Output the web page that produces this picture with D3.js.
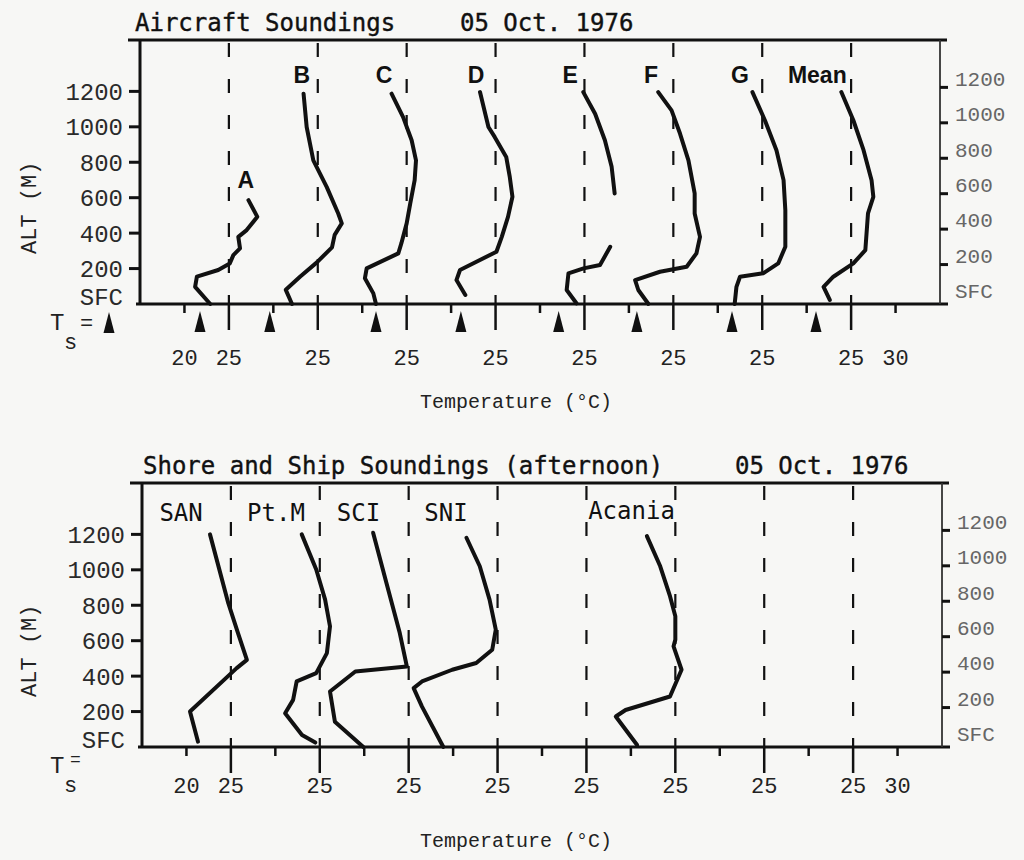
<!DOCTYPE html>
<html>
<head>
<meta charset="utf-8">
<script src="https://cdn.jsdelivr.net/npm/d3@7"></script>
<style>
  body { margin: 0; background: #f7f7f5; }
</style>
</head>
<body>
<svg id="chart" width="1024" height="860"></svg>
<script>
// altitude axis
const altTicks = [0, 200, 400, 600, 800, 1000, 1200];
const altTickLabels = ["SFC", "200", "400", "600", "800", "1000", "1200"];

// temperature axis: each sounding is shifted 10 deg C to the right
const tempMinorTicks = [20, 30, 40, 50, 60, 70, 80, 90, 100];
const tempMajorTicks = [25, 35, 45, 55, 65, 75, 85, 95];
const tempLabelValues = [20, 25, 35, 45, 55, 65, 75, 85, 95, 100];
const tempLabelTexts = ["20", "25", "25", "25", "25", "25", "25", "25", "25", "30"];

// aircraft soundings [temperature, altitude]
const aircraftNames = ["A", "B", "C", "D", "E", "F", "G", "Mean"];
const aircraftOffsets = [0, 10, 20, 30, 40, 50, 60, 70];
const soundingA = [[22.9,0],[21.2,97],[21.4,154],[23.8,192],[25.1,229],[25.5,276],[26.25,314],[26.06,379],[27.0,417],[28.2,492],[27.2,586]];
const soundingB = [[22.1,0],[21.4,80],[23.0,154],[24.9,235],[26.6,320],[26.9,390],[27.7,455],[27.3,511],[26.0,661],[24.5,811],[23.75,999],[23.4,1187]];
const soundingC = [[21.55,0],[21.25,60],[20.3,145],[20.5,201],[24.06,286],[24.4,342],[25.0,455],[25.4,567],[25.9,699],[26.05,811],[25.56,924],[24.6,1055],[23.3,1187]];
const soundingD = [[21.6,51],[20.6,135],[21.0,192],[25.1,295],[25.7,379],[26.4,492],[26.9,605],[26.6,717],[26.2,830],[24.9,943],[24.2,999],[23.25,1196]];
const soundingE = [[24.1,4],[23.0,79],[23.2,173],[24.9,201],[26.75,220],[27.9,323],null,[28.4,624],[28.06,774],[27.3,924],[26.2,1074],[24.87,1196]];
const soundingF = [[22.2,0],[21.06,79],[20.7,135],[23.5,182],[26.5,210],[27.6,286],[28.0,379],[27.4,511],[27.4,624],[26.7,811],[25.75,962],[24.8,1093],[23.3,1196]];
const soundingG = [[21.9,0],[22.1,97],[22.5,154],[25.1,173],[26.8,229],[27.6,323],[27.6,530],[27.4,699],[26.6,868],[25.3,1037],[23.9,1196]];
const soundingMean = [[22.6,23],[21.9,97],[23.0,154],[25.25,229],[26.6,304],[26.9,511],[27.5,605],[27.3,699],[26.4,868],[25.25,1037],[23.9,1196]];
const aircraftTs = [21.75, 19.6, 21.55, 21.1, 22.1, 20.9, 21.6, 21.05];
const aircraftLabelPos = [[26.9,654],[23.2,1250],[22.45,1250],[22.8,1250],[23.4,1250],[22.5,1250],[22.5,1250],[21.2,1250]];

// shore and ship soundings
const shoreNames = ["SAN", "Pt.M", "SCI", "SNI", "Acania"];
const shoreOffsets = [0, 10, 20, 30, 50];
const soundingSAN = [[21.3,30],[20.4,200],[25.65,445],[26.8,492],[25.8,643],[24.7,813],[22.65,1200]];
const soundingPtM = [[24.5,25],[23.0,68],[21.1,191],[22.0,266],[22.4,370],[24.6,417],[25.8,530],[26.15,681],[25.6,832],[24.6,1002],[22.97,1200]];
const soundingSCI = [[19.9,0],[16.7,143],[16.15,313],[19.0,426],[24.8,454],[24.0,643],[22.5,926],[21.0,1209]];
const soundingSNI = [[18.9,0],[16.5,228],[15.56,332],[16.5,370],[19.9,436],[22.6,474],[24.4,549],[24.8,662],[24.1,832],[23.0,1020],[21.5,1181]];
const soundingAcania = [[20.7,11],[18.3,172],[19.4,209],[24.4,285],[25.7,436],[24.8,568],[25.0,606],[25.0,738],[24.4,851],[23.3,1020],[21.8,1190]];
const shoreLabelPos = [[19.4,1273],[20.07,1273],[19.36,1273],[19.2,1273],[20.07,1285]];

const ink = "#111";
const svg = d3.select("#chart");

function drawPanel(cfg) {
    const x = d3.scaleLinear().domain([15, 105]).range([cfg.left, cfg.left + 800]);
    const y = d3.scaleLinear().domain([0, 1490]).range([cfg.bottom, cfg.bottom - 264]);
    const g = svg.append("g");
    const x0 = x(15), x1 = x(105), yTop = y(1490), y0 = y(0);

    // title
    const title = g.append("g")
        .attr("font-family", "DejaVu Sans Mono")
        .attr("font-size", 24)
        .attr("fill", ink)
        .attr("stroke", ink)
        .attr("stroke-width", 0.4);
    cfg.titles.forEach(t => title.append("text").attr("x", t[0]).attr("y", yTop - 9).text(t[1]));

    // dashed reference lines at 25 C of every sounding
    g.selectAll(".dash").data(tempMajorTicks).join("line")
        .attr("x1", d => x(d)).attr("x2", d => x(d))
        .attr("y1", yTop + 3).attr("y2", y0)
        .attr("stroke", ink).attr("stroke-width", 2.2)
        .attr("stroke-dasharray", "14,22");
    g.selectAll(".major").data(tempMajorTicks).join("line")
        .attr("x1", d => x(d)).attr("x2", d => x(d))
        .attr("y1", y0).attr("y2", y0 + 26)
        .attr("stroke", ink).attr("stroke-width", 2.5);
    g.selectAll(".minor").data(tempMinorTicks).join("line")
        .attr("x1", d => x(d)).attr("x2", d => x(d))
        .attr("y1", y0).attr("y2", y0 + 9)
        .attr("stroke", ink).attr("stroke-width", 2.5);

    // frame
    g.append("line").attr("x1", x0 - 12).attr("x2", x1 + 7).attr("y1", yTop).attr("y2", yTop)
        .attr("stroke", ink).attr("stroke-width", 3);
    g.append("line").attr("x1", x0 - 4).attr("x2", x1 + 8).attr("y1", y0).attr("y2", y0)
        .attr("stroke", ink).attr("stroke-width", 3.2);
    g.append("line").attr("x1", x0).attr("x2", x0).attr("y1", yTop).attr("y2", y0)
        .attr("stroke", ink).attr("stroke-width", 3);
    g.append("line").attr("x1", x1).attr("x2", x1).attr("y1", yTop).attr("y2", y0)
        .attr("stroke", "#333").attr("stroke-width", 1.8);

    // left altitude ticks
    g.selectAll(".ltick").data(altTicks.slice(1)).join("line")
        .attr("x1", x0 - 11).attr("x2", x0)
        .attr("y1", d => y(d)).attr("y2", d => y(d))
        .attr("stroke", ink).attr("stroke-width", 3);
    g.selectAll(".llab").data(altTicks).join("text")
        .attr("x", x0 - 17).attr("y", d => y(d) - (d === 0 ? 7 : 0))
        .attr("dy", "0.35em")
        .attr("text-anchor", "end")
        .attr("font-family", "Liberation Mono").attr("font-size", 24)
        .attr("fill", "#2a2a2a")
        .text((d, i) => altTickLabels[i]);

    // right altitude ticks (slightly shifted on the original)
    const right = g.append("g").attr("transform", "translate(0,-4)");
    right.selectAll("line").data(altTicks.slice(1)).join("line")
        .attr("x1", x1).attr("x2", x1 + 8)
        .attr("y1", d => y(d)).attr("y2", d => y(d))
        .attr("stroke", ink).attr("stroke-width", 3);
    right.selectAll("text").data(altTicks).join("text")
        .attr("x", x1 + 15).attr("y", d => y(d) - 9)
        .attr("dy", "0.35em")
        .attr("font-family", "Liberation Mono").attr("font-size", 21)
        .attr("fill", "#666")
        .text((d, i) => altTickLabels[i]);

    // temperature tick labels
    g.selectAll(".tlab").data(tempLabelValues).join("text")
        .attr("x", d => x(d)).attr("y", y0 + cfg.tickLabelGap)
        .attr("text-anchor", "middle")
        .attr("font-family", "Liberation Mono").attr("font-size", 22)
        .attr("fill", "#222")
        .text((d, i) => tempLabelTexts[i]);

    // axis titles
    g.append("text")
        .attr("x", 516).attr("y", y0 + cfg.axisTitleGap)
        .attr("text-anchor", "middle")
        .attr("font-family", "Liberation Mono").attr("font-size", 20)
        .attr("fill", "#222")
        .text("Temperature (°C)");
    g.append("text")
        .attr("transform", `translate(36,${(y(0) + y(1200)) / 2 + 10}) rotate(-90)`)
        .attr("text-anchor", "middle")
        .attr("font-family", "Liberation Mono").attr("font-size", 22)
        .attr("fill", "#222")
        .text("ALT (M)");

    // T_s marker legend
    const ts = g.append("g").attr("font-family", "Liberation Mono").attr("fill", "#222");
    ts.append("text").attr("x", 50).attr("y", y0 + 26).attr("font-size", 24).text("T");
    ts.append("text").attr("x", 64).attr("y", y0 + 45).attr("font-size", 22).text("s");
    ts.append("text").attr("x", cfg.tsMarks ? 80 : 70).attr("y", y0 + (cfg.tsMarks ? 26 : 18))
        .attr("font-size", cfg.tsMarks ? 22 : 18).text("=");
    const tri = "M-5.5,0L0,-21L5.5,0Z";
    if (cfg.tsMarks) {
        g.append("path").attr("d", tri).attr("transform", `translate(109,${y0 + 29})`).attr("fill", ink);
        g.selectAll(".tri").data(cfg.tsMarks).join("path")
            .attr("d", tri)
            .attr("transform", (d, i) => `translate(${x(d + cfg.offsets[i])},${y0 + 28})`)
            .attr("fill", ink);
    }

    // soundings
    cfg.soundings.forEach((s, i) => {
        const off = cfg.offsets[i];
        const line = d3.line()
            .defined(d => d !== null)
            .x(d => x(d[0] + off))
            .y(d => y(d[1]));
        g.append("path").datum(s)
            .attr("d", line)
            .attr("fill", "none")
            .attr("stroke", ink)
            .attr("stroke-width", 4)
            .attr("stroke-linejoin", "round")
            .attr("stroke-linecap", "round");
    });

    // sounding names
    g.selectAll(".name").data(cfg.names).join("text")
        .attr("x", (d, i) => x(cfg.labelPos[i][0] + cfg.offsets[i]))
        .attr("y", (d, i) => y(cfg.labelPos[i][1]))
        .attr("text-anchor", "middle")
        .attr("font-family", cfg.nameFont)
        .attr("font-weight", cfg.nameWeight)
        .attr("font-size", cfg.nameSize)
        .attr("fill", ink)
        .text(d => d);
}

drawPanel({
    left: 140, bottom: 304,
    titles: [[135, "Aircraft Soundings"], [460, "05 Oct. 1976"]],
    soundings: [soundingA, soundingB, soundingC, soundingD, soundingE, soundingF, soundingG, soundingMean],
    offsets: aircraftOffsets,
    names: aircraftNames,
    labelPos: aircraftLabelPos,
    nameFont: "Liberation Sans", nameWeight: "bold", nameSize: 23,
    tsMarks: aircraftTs,
    tickLabelGap: 61, axisTitleGap: 104
});

drawPanel({
    left: 142, bottom: 747,
    titles: [[143, "Shore and Ship Soundings (afternoon)"], [735, "05 Oct. 1976"]],
    soundings: [soundingSAN, soundingPtM, soundingSCI, soundingSNI, soundingAcania],
    offsets: shoreOffsets,
    names: shoreNames,
    labelPos: shoreLabelPos,
    nameFont: "DejaVu Sans Mono", nameWeight: "normal", nameSize: 24,
    tsMarks: null,
    tickLabelGap: 46, axisTitleGap: 100
});
</script>
</body>
</html>
